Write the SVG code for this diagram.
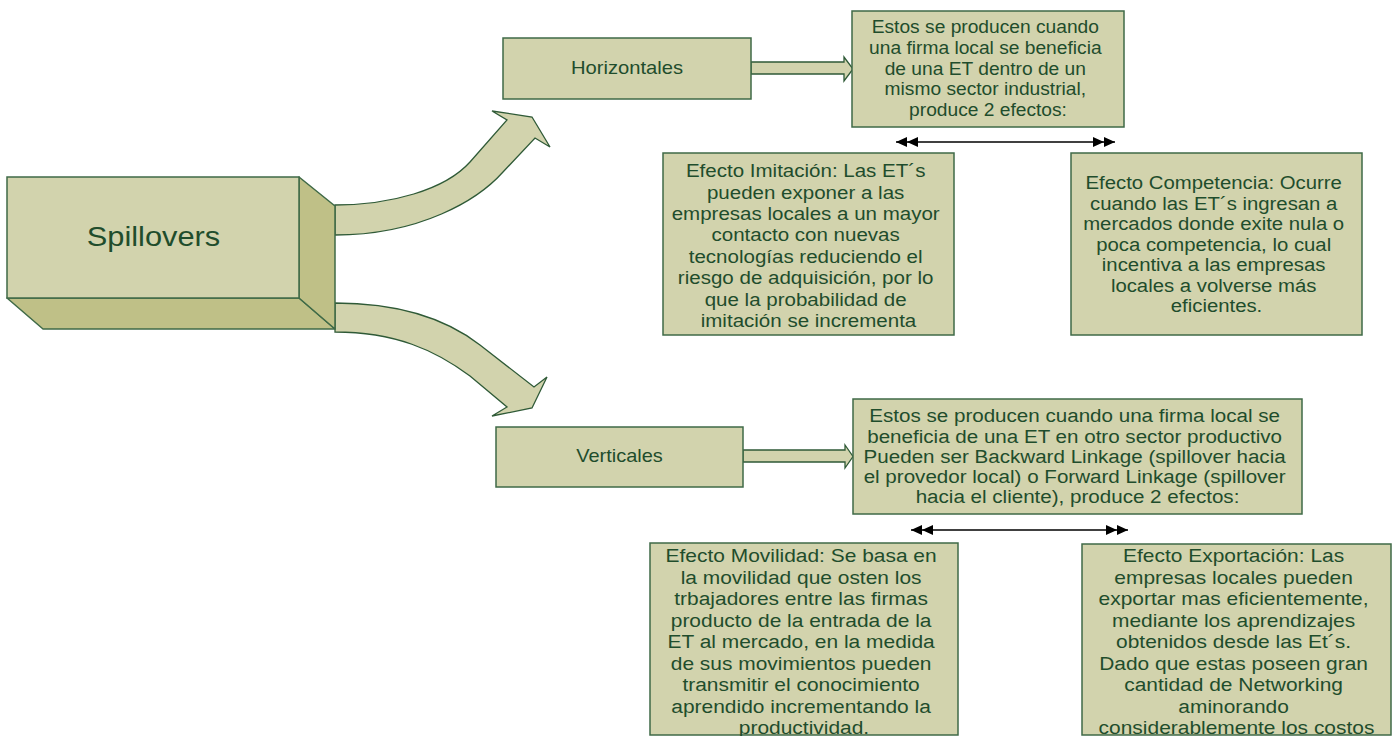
<svg xmlns="http://www.w3.org/2000/svg" width="1399" height="736" viewBox="0 0 1399 736">
<defs>
<style>
.box{fill:#D2D3AD;stroke:#3F6A47;stroke-width:1.5}
.dark{fill:#BFC087;stroke:#3F6A47;stroke-width:1.5;stroke-linejoin:round}
.blk{fill:#D2D3AD;stroke:#2F5A37;stroke-width:1.3;stroke-linejoin:miter}
text{font-family:"Liberation Sans",Arial,sans-serif;fill:#1F4D2C;text-anchor:middle}
.conn{stroke:#000;stroke-width:1.3;fill:none;marker-start:url(#dbl);marker-end:url(#dbl)}
</style>
<marker id="dbl" markerUnits="userSpaceOnUse" markerWidth="24" markerHeight="12" refX="22" refY="6" orient="auto-start-reverse" viewBox="0 0 24 12">
<path d="M0,1 L11,6 L0,11 Z M11,1 L22,6 L11,11 Z" fill="#000"/>
</marker>
</defs>
<rect width="1399" height="736" fill="#fff"/>

<g id="connectors">
<path class="blk" d="M335,205 C390,205 445,190 470,162 L507,120 L492,111 L532,117 L550,147 L535,138 L503,172 C478,200 420,235 335,235 Z"/>
<path class="blk" d="M335,303 C390,303 440,314 480,345 L534,387 L547,377 L532,408 L492,416 L507,407 L470,376 C435,350 395,332 335,332 Z"/>
<path class="blk" d="M751,62 H844 V57 L853,69 L844,81 V74 H751 Z"/>
<path class="blk" d="M743,450 H845 V445 L853,456.5 L845,468 V462 H743 Z"/>
<line class="conn" x1="896" y1="142" x2="1115" y2="142"/>
<line class="conn" x1="911" y1="530" x2="1128" y2="530"/>
</g>

<g id="spillovers">
<polygon class="dark" points="7,298 299,298 335,329 43,329"/>
<polygon class="dark" points="299,177 335,206 335,329 299,298"/>
<rect class="box" x="7" y="177" width="292" height="121"/>
<g transform="matrix(1.1,0,0,1,153.5,0)"><text x="0" y="246.5" font-size="28">Spillovers</text></g>
</g>

<g id="horizontales">
<rect class="box" x="503" y="38" width="248" height="61"/>
<g transform="matrix(1.14,0,0,1,627,0)"><text x="0" y="74.3" font-size="17.7">Horizontales</text></g>
</g>

<g id="horizontal-desc">
<rect class="box" x="852" y="11" width="272" height="116"/>
<g transform="matrix(1.085,0,0,1,988,0)"><text y="33.5" font-size="17.7">
<tspan x="0">Estos se producen cuando</tspan>
<tspan x="0" dy="20.6">una firma local se beneficia</tspan>
<tspan x="0" dy="20.6">de una ET dentro de un</tspan>
<tspan x="0" dy="20.6">mismo sector industrial,</tspan>
<tspan x="0" dy="20.6">produce 2 efectos:</tspan>
</text></g>
</g>

<g id="imitacion">
<rect class="box" x="663" y="153" width="291" height="182"/>
<g transform="matrix(1.11,0,0,1,808.5,0)"><text y="177.3" font-size="18.5">
<tspan x="0">Efecto Imitación: Las ET´s</tspan>
<tspan x="0" dy="21.4">pueden exponer a las</tspan>
<tspan x="0" dy="21.4">empresas locales a un mayor</tspan>
<tspan x="0" dy="21.4">contacto con nuevas</tspan>
<tspan x="0" dy="21.4">tecnologías reduciendo el</tspan>
<tspan x="0" dy="21.4">riesgo de adquisición, por lo</tspan>
<tspan x="0" dy="21.4">que la probabilidad de</tspan>
<tspan x="0" dy="21.4">imitación se incrementa</tspan>
</text></g>
</g>

<g id="competencia">
<rect class="box" x="1071" y="153" width="291" height="182"/>
<g transform="matrix(1.13,0,0,1,1216.5,0)"><text y="189.3" font-size="18">
<tspan x="0">Efecto Competencia: Ocurre</tspan>
<tspan x="0" dy="20.5">cuando las ET´s ingresan a</tspan>
<tspan x="0" dy="20.5">mercados donde exite nula o</tspan>
<tspan x="0" dy="20.5">poca competencia, lo cual</tspan>
<tspan x="0" dy="20.5">incentiva a las empresas</tspan>
<tspan x="0" dy="20.5">locales a volverse más</tspan>
<tspan x="0" dy="20.5">eficientes.</tspan>
</text></g>
</g>

<g id="verticales">
<rect class="box" x="496" y="427" width="247" height="60"/>
<g transform="matrix(1.13,0,0,1,619.5,0)"><text x="0" y="462.3" font-size="17.7">Verticales</text></g>
</g>

<g id="vertical-desc">
<rect class="box" x="853" y="399" width="449" height="115"/>
<g transform="matrix(1.17,0,0,1,1077.5,0)"><text y="422.3" font-size="17.6">
<tspan x="0">Estos se producen cuando una firma local se</tspan>
<tspan x="0" dy="20.25">beneficia de una ET en otro sector productivo</tspan>
<tspan x="0" dy="20.25">Pueden ser Backward Linkage (spillover hacia</tspan>
<tspan x="0" dy="20.25">el provedor local) o Forward Linkage (spillover</tspan>
<tspan x="0" dy="20.25">hacia el cliente), produce 2 efectos:</tspan>
</text></g>
</g>

<g id="movilidad">
<rect class="box" x="650" y="543" width="308" height="192"/>
<g transform="matrix(1.12,0,0,1,804,0)"><text y="562.5" font-size="18.7">
<tspan x="0">Efecto Movilidad: Se basa en</tspan>
<tspan x="0" dy="21.5">la movilidad que osten los</tspan>
<tspan x="0" dy="21.5">trbajadores entre las firmas</tspan>
<tspan x="0" dy="21.5">producto de la entrada de la</tspan>
<tspan x="0" dy="21.5">ET al mercado, en la medida</tspan>
<tspan x="0" dy="21.5">de sus movimientos pueden</tspan>
<tspan x="0" dy="21.5">transmitir el conocimiento</tspan>
<tspan x="0" dy="21.5">aprendido incrementando la</tspan>
<tspan x="0" dy="21.5">productividad.</tspan>
</text></g>
</g>

<g id="exportacion">
<rect class="box" x="1082" y="544" width="309" height="191"/>
<g transform="matrix(1.12,0,0,1,1236.5,0)"><text y="562.5" font-size="18.7">
<tspan x="0">Efecto Exportación: Las</tspan>
<tspan x="0" dy="21.5">empresas locales pueden</tspan>
<tspan x="0" dy="21.5">exportar mas eficientemente,</tspan>
<tspan x="0" dy="21.5">mediante los aprendizajes</tspan>
<tspan x="0" dy="21.5">obtenidos desde las Et´s.</tspan>
<tspan x="0" dy="21.5">Dado que estas poseen gran</tspan>
<tspan x="0" dy="21.5">cantidad de Networking</tspan>
<tspan x="0" dy="21.5">aminorando</tspan>
<tspan x="0" dy="21.5">considerablemente los costos</tspan>
</text></g>
</g>
</svg>
